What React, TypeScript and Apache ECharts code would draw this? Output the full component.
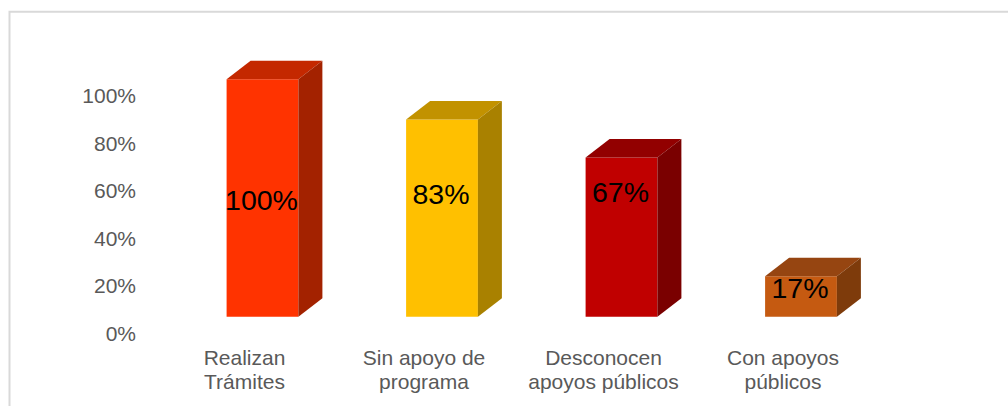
import React, { useEffect, useRef } from "react";
import * as echarts from "echarts";

const categories = [
  "Realizan\nTrámites",
  "Sin apoyo de\nprograma",
  "Desconocen\napoyos públicos",
  "Con apoyos\npúblicos",
];
const values = [1.0, 0.83, 0.67, 0.17];
const valueLabels = ["100%", "83%", "67%", "17%"];
// height (in axis units) where each data label sits
const labelLevels = [0.493, 0.517, 0.526, 0.12];

const frontColors = ["#FF3300", "#FFC000", "#C00000", "#C55A11"];
const topColors = ["#C42800", "#C29200", "#920000", "#964511"];
const sideColors = ["#A32200", "#A98100", "#7A0000", "#7E3B0B"];

const FONT = '"Liberation Sans", Arial, sans-serif';

export default function App() {
  const ref = useRef<HTMLDivElement>(null);

  useEffect(() => {
    if (!ref.current) return;
    const chart = echarts.init(ref.current, null, { renderer: "svg" });
    const dx = 24;
    const dy = 18.5;
    const shiftX = 18;
    const shiftY = -16.6;

    chart.setOption({
      animation: false,
      backgroundColor: "#ffffff",
      graphic: [
        {
          type: "rect",
          shape: { x: 9.5, y: 11.8, width: 1100, height: 500 },
          style: { fill: "none", stroke: "#d9d9d9", lineWidth: 2 },
          silent: true,
          z: -10,
        },
      ],
      grid: { left: 154.75, right: 1008 - 872.75, top: 95.8, bottom: 406 - 333.3, containLabel: false },
      xAxis: {
        type: "category",
        data: categories,
        axisLine: { show: false },
        axisTick: { show: false },
        splitLine: { show: false },
        axisLabel: {
          interval: 0,
          margin: 12,
          fontSize: 21,
          lineHeight: 24,
          color: "#595959",
          fontFamily: FONT,
          align: "center",
        },
      },
      yAxis: {
        type: "value",
        min: 0,
        max: 1,
        interval: 0.2,
        axisLine: { show: false },
        axisTick: { show: false },
        splitLine: { show: false },
        axisLabel: {
          margin: 18.75,
          fontSize: 21,
          color: "#595959",
          fontFamily: FONT,
          formatter: (v: number) => Math.round(v * 100) + "%",
        },
      },
      series: [
        {
          type: "custom",
          data: values.map((v, i) => [i, v, labelLevels[i]]),
          encode: { x: 0, y: 1 },
          renderItem: (params: any, api: any) => {
            const i = api.value(0);
            const v = api.value(1);
            const lv = api.value(2);
            const base = api.coord([i, 0]);
            const top = api.coord([i, v]);
            const lab = api.coord([i, lv]);
            const w = api.size([1, 0])[0] * 0.4;
            const cx = base[0] + shiftX;
            const x0 = cx - w / 2;
            const x1 = cx + w / 2;
            const yB = base[1] + shiftY;
            const yT = top[1] + shiftY;
            return {
              type: "group",
              children: [
                {
                  type: "rect",
                  shape: { x: x0, y: yT, width: w, height: yB - yT },
                  style: { fill: frontColors[i] },
                },
                {
                  type: "polygon",
                  shape: {
                    points: [
                      [x0, yT],
                      [x0 + dx, yT - dy],
                      [x1 + dx, yT - dy],
                      [x1, yT],
                    ],
                  },
                  style: { fill: topColors[i] },
                },
                {
                  type: "polygon",
                  shape: {
                    points: [
                      [x1, yT],
                      [x1 + dx, yT - dy],
                      [x1 + dx, yB - dy],
                      [x1, yB],
                    ],
                  },
                  style: { fill: sideColors[i] },
                },
                {
                  type: "text",
                  style: {
                    text: valueLabels[i],
                    x: cx - 1,
                    y: lab[1] + shiftY,
                    align: "center",
                    verticalAlign: "middle",
                    fontSize: 28.5,
                    fontFamily: FONT,
                    fill: "#000000",
                  },
                },
              ],
            };
          },
        },
      ],
    });
    return () => chart.dispose();
  }, []);

  return (
    <div
      ref={ref}
      style={{ position: "fixed", left: 0, top: 0, width: 1008, height: 406 }}
    />
  );
}
